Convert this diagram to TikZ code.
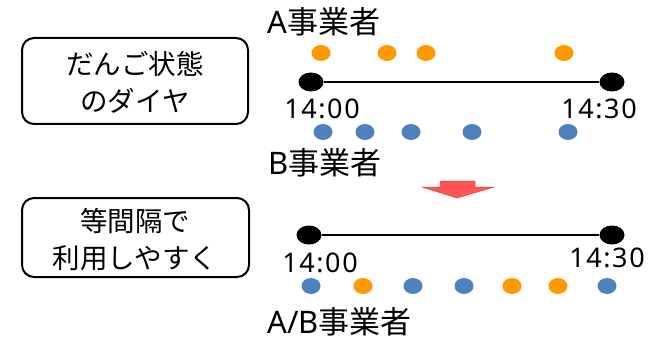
\documentclass[tikz,border=0pt]{standalone}
\usepackage{fontspec}
\usetikzlibrary{shapes.geometric}
\setmainfont{Noto Sans}
\newfontfamily\jp{Noto Sans CJK JP}
\newfontfamily\digits[LetterSpace=6]{Noto Sans}
\definecolor{dorange}{RGB}{255,153,0}
\definecolor{dblue}{RGB}{79,129,189}
\definecolor{arrred}{RGB}{255,85,85}
\definecolor{arredge}{RGB}{230,60,60}
\begin{document}
\begin{tikzpicture}[x=1pt,y=-1pt,
  labelbox/.style={draw=black,line width=2pt,rounded corners=12pt},
  boxtext/.style={font=\jp\fontsize{27.5}{37}\selectfont,align=center,inner sep=0},
  oplabel/.style={font=\fontsize{31}{34}\selectfont,anchor=west,inner sep=0},
  timetext/.style={font=\digits\fontsize{27}{30}\selectfont,inner sep=0},
  enddot/.style={fill=black,ellipse,minimum width=25pt,minimum height=19pt,inner sep=0},
  odot/.style={fill=dorange,ellipse,minimum width=19pt,minimum height=16pt,inner sep=0},
  bdot/.style={fill=dblue,ellipse,minimum width=19pt,minimum height=16pt,inner sep=0},
  tline/.style={line width=2pt}]
\useasboundingbox (0,0) rectangle (664,350);
% boxes
\draw[labelbox] (22,38) rectangle (248,124);
\node[boxtext] (t1) at (135,82) {だんご状態\\のダイヤ};
\draw[labelbox] (22,198) rectangle (249,277);
\node[boxtext] (t2) at (135,240) {等間隔で\\利用しやすく};
% top timeline
\node[oplabel] (la) at (267,22) {A{\jp 事業者}};
\node[oplabel] (lb) at (268,163) {B{\jp 事業者}};
\node[enddot] (s1) at (311,82) {};
\node[enddot] (e1) at (612,82) {};
\draw[tline] (s1) -- (e1);
\node[timetext] (t100) at (322,109) {14:00};
\node[timetext] (t130) at (599,109) {14:30};
\node[odot] (a1) at (321,53) {};
\node[odot] (a2) at (387,53) {};
\node[odot] (a3) at (426,53) {};
\node[odot] (a4) at (564,53) {};
\node[bdot] (b1) at (323,132) {};
\node[bdot] (b2) at (365,132) {};
\node[bdot] (b3) at (411,132) {};
\node[bdot] (b4) at (472,132) {};
\node[bdot] (b5) at (568,132) {};
% arrow
\filldraw[fill=arrred,draw=arredge,line width=0.5pt] (440,181) -- (475,181) -- (475,187) -- (494,187) -- (457,198) -- (422,187) -- (440,187) -- cycle;
% bottom timeline
\node[enddot] (s2) at (309,235) {};
\node[enddot] (e2) at (612,235) {};
\draw[tline] (s2) -- (e2);
\node[timetext] (t200) at (320,263) {14:00};
\node[timetext] (t230) at (607,258) {14:30};
\node[bdot] (c1) at (311,286) {};
\node[odot] (c2) at (363,286) {};
\node[bdot] (c3) at (413,286) {};
\node[bdot] (c4) at (464,286) {};
\node[odot] (c5) at (512,286) {};
\node[odot] (c6) at (558,286) {};
\node[bdot] (c7) at (607,286) {};
\node[oplabel] (lab) at (267,322) {A/B{\jp 事業者}};
\end{tikzpicture}
\end{document}
